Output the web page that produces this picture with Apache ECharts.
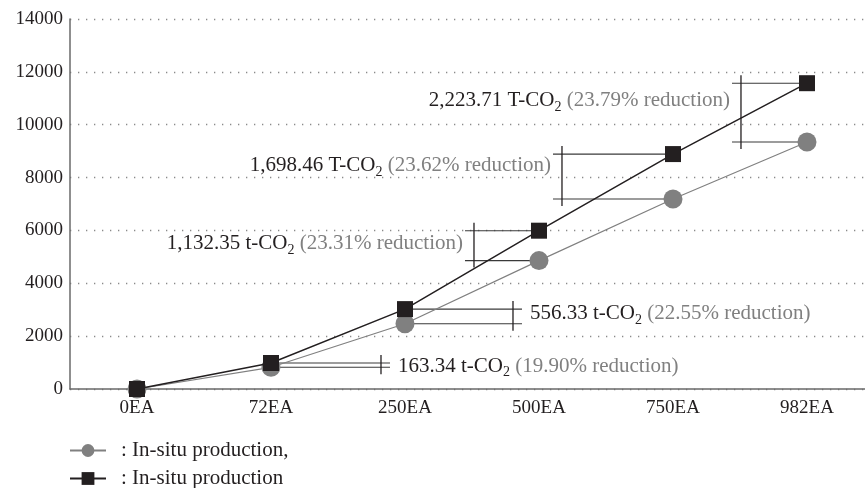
<!DOCTYPE html>
<html>
<head>
<meta charset="utf-8">
<script src="https://cdn.jsdelivr.net/npm/echarts@6/dist/echarts.min.js"></script>
<style>
  html, body { margin: 0; padding: 0; background: #fff; }
  #main { width: 865px; height: 488px; }
</style>
</head>
<body>
<div id="main"></div>
<script>
var categories = ['0EA', '72EA', '250EA', '500EA', '750EA', '982EA'];
var grayValues = [0, 821, 2467, 4858, 7191, 9347];
var blackValues = [0, 984, 3023, 5990, 8889, 11571];
var reductionAmount = [163.34, 556.33, 1132.35, 1698.46, 2223.71];
var reductionPct = ['19.90', '22.55', '23.31', '23.62', '23.79'];
var reductionUnit = ['t', 't', 't', 'T', 'T'];
var yTicks = [0, 2000, 4000, 6000, 8000, 10000, 12000, 14000];
var seriesNames = [': In-situ production,', ': In-situ production'];

var FONT = 'Liberation Serif';
var DARK = '#231f20';
var GRAY = '#808080';

// bracket layout per annotated category (px offsets from the points)
var bracketDx = [110, 108, -65, -111, -66];
var labelDy = [1, -3, -2, -11, -12];

var catIndex = categories.map(function (c, i) { return i; });
var grayData = catIndex.map(function (i) { return [i, grayValues[i]]; });
var blackData = catIndex.map(function (i) { return [i, blackValues[i]]; });

var bracketData = [];
for (var i = 0; i < reductionAmount.length; i++) {
    bracketData.push([i + 1, grayValues[i + 1], blackValues[i + 1], i]);
}

function renderBracket(params, api) {
    var idx = api.value(3);
    var pG = api.coord([api.value(0), api.value(1)]);
    var pB = api.coord([api.value(0), api.value(2)]);
    var dx = bracketDx[idx];
    var vx = pG[0] + dx;
    var dir = dx > 0 ? 1 : -1;
    var hEnd = vx + dir * 9;
    var lineStyle = { stroke: '#3a3a3a', lineWidth: 1.1 };
    var txt = '{a|' + reductionAmount[idx].toLocaleString('en-US', {minimumFractionDigits: 2}) +
        ' ' + reductionUnit[idx] + '-CO}{s|2}{b| (' + reductionPct[idx] + '% reduction)}';
    var midY = (pG[1] + pB[1]) / 2 + labelDy[idx];
    return {
        type: 'group',
        children: [
            { type: 'line', shape: { x1: pB[0], y1: pB[1], x2: hEnd, y2: pB[1] }, style: lineStyle },
            { type: 'line', shape: { x1: pG[0], y1: pG[1], x2: hEnd, y2: pG[1] }, style: lineStyle },
            { type: 'line', shape: { x1: vx, y1: pB[1] - 8, x2: vx, y2: pG[1] + 7 },
              style: { stroke: DARK, lineWidth: 1.3 } },
            {
                type: 'text',
                x: dir > 0 ? vx + 17 : vx - 11,
                y: midY,
                style: {
                    text: txt,
                    align: dir > 0 ? 'left' : 'right',
                    verticalAlign: 'middle',
                    rich: {
                        a: { fontFamily: FONT, fontSize: 21, fill: DARK, lineHeight: 27 },
                        s: { fontFamily: FONT, fontSize: 14, fill: DARK, lineHeight: 27, verticalAlign: 'bottom' },
                        b: { fontFamily: FONT, fontSize: 21, fill: GRAY, lineHeight: 27 }
                    }
                }
            }
        ]
    };
}

var legendText = { fontFamily: FONT, fontSize: 21, color: DARK, padding: [0, 0, 0, 10] };

var option = {
    animation: false,
    backgroundColor: '#fff',
    grid: { left: 70, right: 0, top: 19, bottom: 99, containLabel: false },
    legend: [
        { left: 69, top: 440, padding: 0, itemWidth: 36, itemHeight: 16,
          textStyle: legendText, data: [seriesNames[0]] },
        { left: 69, top: 468, padding: 0, itemWidth: 36, itemHeight: 16,
          textStyle: legendText, data: [seriesNames[1]] }
    ],
    xAxis: {
        type: 'value',
        min: -0.5,
        max: 5.433,
        axisLine: { onZero: false, lineStyle: { color: '#6a6a6a', width: 1.5 } },
        axisTick: { show: false },
        axisLabel: {
            fontFamily: FONT, fontSize: 19, color: DARK, margin: 10,
            customValues: catIndex,
            formatter: function (v) { return categories[Math.round(v)]; }
        },
        splitLine: { show: false }
    },
    yAxis: {
        type: 'value',
        min: yTicks[0],
        max: yTicks[yTicks.length - 1],
        interval: yTicks[1] - yTicks[0],
        axisLine: { show: true, onZero: false, lineStyle: { color: '#6a6a6a', width: 1.5 } },
        axisTick: { show: false },
        axisLabel: { fontFamily: FONT, fontSize: 19, color: DARK, margin: 7,
                     formatter: function (v) { return String(v); } },
        splitLine: { show: true, lineStyle: { color: '#8a8a8a', width: 1.3, type: [1.3, 6.7] } }
    },
    series: [
        {
            type: 'custom',
            renderItem: renderBracket,
            data: bracketData,
            z: 1,
            silent: true
        },
        {
            name: seriesNames[0],
            type: 'line',
            data: grayData,
            symbol: 'circle',
            symbolSize: 19,
            itemStyle: { color: GRAY },
            lineStyle: { color: GRAY, width: 1.2 },
            z: 3
        },
        {
            name: seriesNames[1],
            type: 'line',
            data: blackData,
            symbol: 'rect',
            symbolSize: 16,
            itemStyle: { color: DARK },
            lineStyle: { color: DARK, width: 1.5 },
            z: 4
        }
    ]
};

var myChart = echarts.init(document.getElementById('main'));
myChart.setOption(option);
</script>
</body>
</html>
